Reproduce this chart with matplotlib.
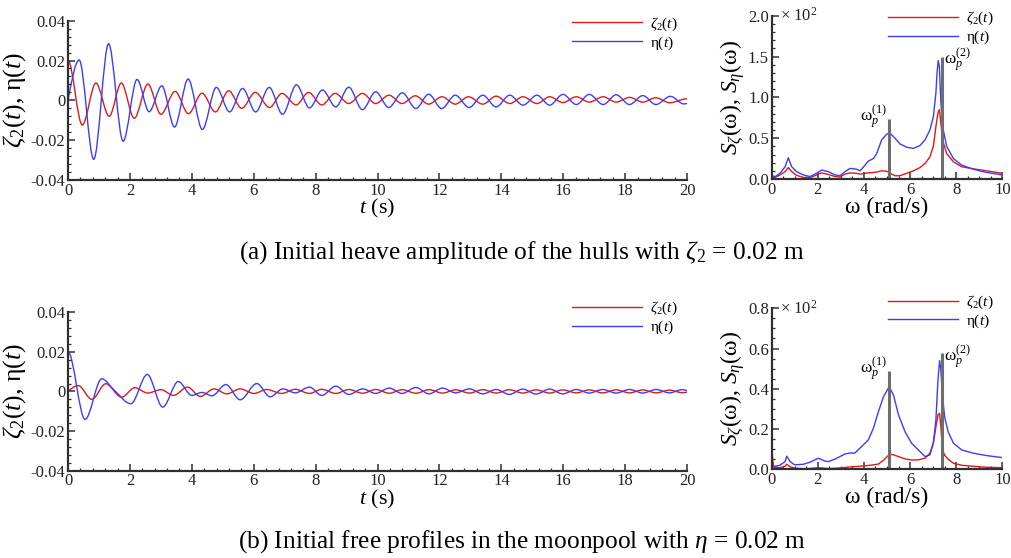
import numpy as np
import matplotlib
matplotlib.use('Agg')
import matplotlib.pyplot as plt
from matplotlib.path import Path
from matplotlib.patches import PathPatch
from matplotlib.lines import Line2D
from matplotlib.ticker import AutoMinorLocator

plt.rcParams['font.family'] = ['Liberation Serif', 'DejaVu Serif']
plt.rcParams['mathtext.fontset'] = 'custom'
plt.rcParams['mathtext.rm'] = 'Liberation Serif'
plt.rcParams['mathtext.it'] = 'Liberation Serif:italic'
plt.rcParams['mathtext.bf'] = 'Liberation Serif:bold'

RED = '#e01818'
BLUE = '#3c3cff'
AXC = '#303030'

# ---- (a) heave of the hulls: extrema of the time histories
t_zeta_a = [0, 0.46, 0.90, 1.33, 1.72, 2.14, 2.58, 3.00, 3.46, 3.89, 4.33, 4.76, 5.19, 5.61,
            6.05, 6.51, 6.91, 7.37, 7.77, 8.20, 8.63, 9.07, 9.51, 9.94, 10.37, 10.79, 11.22,
            11.65, 12.08, 12.51, 12.94, 13.40, 13.83, 14.27, 14.70, 15.15, 15.56, 15.99, 16.42,
            16.84, 17.29, 17.71, 18.14, 18.57, 18.99, 19.44, 20.0]
zeta_a = [0.020, -0.0124, 0.0087, -0.0080, 0.0087, -0.0090, 0.0082, -0.0070, 0.0045, -0.0067,
          0.0036, -0.0058, 0.0048, -0.0040, 0.0040, -0.0036, 0.0035, -0.0023, 0.0040, -0.0023,
          0.0035, -0.0016, 0.0035, -0.0016, 0.0026, -0.0016, 0.0023, -0.0019, 0.0018, -0.0019,
          0.0018, -0.0019, 0.0021, -0.0016, 0.0018, -0.0016, 0.0018, -0.0011, 0.0018, -0.0009,
          0.0018, -0.0009, 0.0015, -0.0009, 0.0013, -0.0012, 0.0008]
t_eta_a = [0, 0.36, 0.83, 1.31, 1.78, 2.23, 2.62, 3.03, 3.44, 3.88, 4.34, 4.79, 5.22, 5.64,
           6.06, 6.50, 6.93, 7.38, 7.80, 8.22, 8.65, 9.07, 9.51, 9.94, 10.36, 10.80, 11.24,
           11.65, 12.07, 12.51, 12.96, 13.40, 13.83, 14.27, 14.70, 15.15, 15.56, 15.99, 16.42,
           16.84, 17.29, 17.71, 18.14, 18.57, 18.99, 19.46, 19.90, 20.0]
eta_a = [0, 0.0203, -0.0296, 0.0284, -0.0205, 0.0105, -0.0057, 0.0073, -0.0134, 0.0107,
         -0.0146, 0.0065, -0.0058, 0.0060, -0.0058, 0.0065, -0.0070, 0.0078, -0.0038, 0.0052,
         -0.0033, 0.0066, -0.0047, 0.0043, -0.0036, 0.0038, -0.0041, 0.0031, -0.0041, 0.0026,
         -0.0036, 0.0026, -0.0033, 0.0026, -0.0024, 0.0026, -0.0024, 0.0030, -0.0021, 0.0030,
         -0.0021, 0.0028, -0.0021, 0.0024, -0.0021, 0.0020, -0.0018, -0.0016]

# ---- (b) initial free surface in the moonpool
t_zeta_b = [0, 0.33, 0.77, 1.22, 1.73, 2.16, 2.57, 3.00, 3.41, 3.86, 4.27, 4.72, 5.13, 5.56,
            6.01, 6.42, 6.90, 7.34, 7.80, 8.20, 8.65, 9.07, 9.52, 9.94, 10.38, 10.79, 11.24,
            11.66, 12.10, 12.52, 12.97, 13.40, 13.83, 14.26, 14.69, 15.12, 15.56, 15.98, 16.42,
            16.84, 17.27, 17.71, 18.14, 18.57, 19.00, 19.43, 19.84, 20.0]
zeta_b = [0, 0.0030, -0.0040, 0.0039, -0.0029, 0.0019, -0.0008, 0.0009, -0.0020, 0.0022,
          -0.0025, 0.0013, -0.0012, 0.0013, -0.0010, 0.0010, -0.0010, 0.0011, -0.0010, 0.0011,
          -0.0010, 0.0010, -0.0009, 0.0010, -0.0009, 0.0009, -0.0009, 0.0009, -0.0008, 0.0008,
          -0.0008, 0.0009, -0.0008, 0.0009, -0.0008, 0.0008, -0.0008, 0.0008, -0.0007, 0.0008,
          -0.0007, 0.0008, -0.0007, 0.0008, -0.0007, 0.0007, -0.0006, -0.0004]
t_eta_b = [0, 0.55, 1.09, 1.50, 2.03, 2.56, 3.06, 3.56, 4.00, 4.33, 4.65, 5.10, 5.56, 6.10,
           6.53, 6.94, 7.34, 7.80, 8.20, 8.65, 9.07, 9.52, 9.94, 10.38, 10.79, 11.24, 11.66,
           12.10, 12.52, 12.97, 13.40, 13.83, 14.26, 14.69, 15.12, 15.56, 15.98, 16.42, 16.84,
           17.27, 17.71, 18.14, 18.57, 19.00, 19.43, 19.84, 20.0]
eta_b = [0.0200, -0.0141, 0.0064, 0.0005, -0.0062, 0.0086, -0.0079, 0.0050, -0.0020, -0.0005,
         -0.0022, 0.0035, -0.0042, 0.0040, -0.0027, 0.0013, -0.0007, 0.0022, -0.0020, 0.0027,
         -0.0015, 0.0013, -0.0010, 0.0017, -0.0010, 0.0020, -0.0012, 0.0017, -0.0007, 0.0013,
         -0.0012, 0.0010, -0.0015, 0.0012, -0.0013, 0.0012, -0.0012, 0.0010, -0.0008, 0.0010,
         -0.0008, 0.0010, -0.0008, 0.0010, -0.0007, 0.0009, 0.0004]

# ---- spectra (values in units of 10^2)
w_a = [0, 0.15, 0.36, 0.58, 0.72, 0.87, 1.08, 1.37, 1.66, 1.95, 2.17, 2.46, 2.75, 2.96, 3.18,
       3.40, 3.68, 3.83, 4.05, 4.19, 4.41, 4.55, 4.77, 4.99, 5.13, 5.35, 5.56, 5.85, 6.14, 6.43,
       6.65, 6.86, 7.01, 7.12, 7.17, 7.22, 7.27, 7.33, 7.41, 7.59, 7.88, 8.24, 8.74, 9.32, 10.0]
S_eta_a = [0.04, 0.03, 0.07, 0.15, 0.26, 0.15, 0.09, 0.05, 0.03, 0.07, 0.11, 0.09, 0.05, 0.04,
           0.09, 0.13, 0.12, 0.10, 0.17, 0.22, 0.25, 0.31, 0.48, 0.55, 0.56, 0.50, 0.43, 0.39,
           0.375, 0.41, 0.48, 0.60, 0.76, 1.05, 1.30, 1.45, 1.38, 0.97, 0.64, 0.40, 0.25, 0.17,
           0.12, 0.08, 0.05]
S_zeta_a = [0.02, 0.02, 0.05, 0.09, 0.14, 0.09, 0.045, 0.02, 0.015, 0.05, 0.075, 0.055, 0.03,
            0.025, 0.06, 0.075, 0.07, 0.06, 0.07, 0.075, 0.08, 0.085, 0.10, 0.095, 0.07, 0.04,
            0.04, 0.07, 0.10, 0.14, 0.19, 0.27, 0.40, 0.64, 0.74, 0.82, 0.85, 0.70, 0.48, 0.31,
            0.21, 0.15, 0.125, 0.10, 0.07]

w_b = [0, 0.05, 0.1, 0.36, 0.58, 0.65, 0.8, 1.0, 1.37, 1.66, 2.02, 2.30, 2.46, 2.75, 3.18, 3.40,
       3.60, 3.90, 4.19, 4.41, 4.63, 4.85, 5.05, 5.13, 5.28, 5.50, 5.78, 6.07, 6.36, 6.65, 6.86,
       7.01, 7.12, 7.21, 7.28, 7.33, 7.41, 7.50, 7.65, 7.88, 8.24, 8.74, 9.32, 10.0]
S_eta_b = [0.013, 0.013, 0.014, 0.02, 0.038, 0.065, 0.038, 0.022, 0.025, 0.035, 0.055, 0.041,
           0.038, 0.051, 0.076, 0.081, 0.080, 0.113, 0.146, 0.204, 0.287, 0.361, 0.402, 0.402,
           0.369, 0.27, 0.187, 0.129, 0.096, 0.063, 0.071, 0.13, 0.245, 0.444, 0.54, 0.50, 0.36,
           0.26, 0.187, 0.13, 0.096, 0.08, 0.068, 0.058]
S_zeta_b = [0.12, 0.04, 0.01, 0.008, 0.015, 0.025, 0.012, 0.006, 0.003, 0.004, 0.008, 0.005,
            0.003, 0.005, 0.009, 0.012, 0.013, 0.016, 0.019, 0.022, 0.026, 0.045, 0.068, 0.075,
            0.072, 0.063, 0.052, 0.046, 0.047, 0.055, 0.08, 0.13, 0.21, 0.27, 0.278, 0.22, 0.096,
            0.07, 0.05, 0.03, 0.02, 0.015, 0.01, 0.008]

# peak frequencies and heights of the marker lines
wp = [5.09, 7.37]
wp_top_a = [0.735, 1.49]
wp_top_b = [0.49, 0.58]

captions = [r'(a) Initial heave amplitude of the hulls with $\zeta_2$ = 0.02 m',
            r'(b) Initial free profiles in the moonpool with $\eta$ = 0.02 m']


def smooth_path(t, y):
    # smooth curve through the read extrema (flat tangent at each extremum)
    t = np.asarray(t, float)
    y = np.asarray(y, float)
    n = len(t)
    s = np.zeros(n)
    for i in range(1, n - 1):
        if (y[i] - y[i - 1]) * (y[i + 1] - y[i]) > 0:
            s[i] = (y[i + 1] - y[i - 1]) / (t[i + 1] - t[i - 1])
    if abs(y[0]) < 0.5 * abs(y[1]):
        s[0] = 1.5 * (y[1] - y[0]) / (t[1] - t[0])
    if abs(y[-1]) < 0.5 * abs(y[-2]):
        s[-1] = 1.5 * (y[-1] - y[-2]) / (t[-1] - t[-2])
    verts = [(t[0], y[0])]
    codes = [Path.MOVETO]
    for i in range(n - 1):
        d = (t[i + 1] - t[i]) / 3
        verts += [(t[i] + d, y[i] + s[i] * d), (t[i + 1] - d, y[i + 1] - s[i + 1] * d),
                  (t[i + 1], y[i + 1])]
        codes += [Path.CURVE4] * 3
    return Path(verts, codes)


def style(ax):
    for sp in ['top', 'right']:
        ax.spines[sp].set_visible(False)
    for sp in ['left', 'bottom']:
        ax.spines[sp].set_color(AXC)
        ax.spines[sp].set_linewidth(1.6)
    ax.tick_params(which='both', direction='in', colors=AXC, labelcolor='#222222',
                   labelsize=12, pad=2)
    ax.tick_params(which='major', length=5, width=1.1)
    ax.tick_params(which='minor', length=2.5, width=0.9)


def add_legend(anchor):
    handles = [Line2D([], [], color=RED, lw=1.0), Line2D([], [], color=BLUE, lw=1.0)]
    fig.legend(handles, [r'$\zeta_2(t)$', r'η($t$)'], loc='upper left',
               bbox_to_anchor=anchor, frameon=False, fontsize=11, handlelength=4.6,
               handletextpad=0.5, labelspacing=0.1, borderpad=0, borderaxespad=0)


def time_panel(rect, tz, z, te, e, leg_anchor):
    ax = fig.add_axes(rect)
    ax.add_patch(PathPatch(smooth_path(tz, z), fill=False, edgecolor=RED, lw=1.0))
    ax.add_patch(PathPatch(smooth_path(te, e), fill=False, edgecolor=BLUE, lw=1.0))
    ax.set_xlim(0, 20)
    ax.set_ylim(-0.04, 0.04)
    ax.set_xticks(np.arange(0, 21, 2))
    ax.set_yticks([-0.04, -0.02, 0, 0.02, 0.04])
    ax.set_yticklabels(['-0.04', '-0.02', '0', '0.02', '0.04'])
    ax.xaxis.set_minor_locator(AutoMinorLocator(5))
    ax.yaxis.set_minor_locator(AutoMinorLocator(5))
    style(ax)
    ax.set_xlabel(r'$t$ (s)', fontsize=16, labelpad=-1)
    ax.set_ylabel(r'$\zeta_2(t)$, η($t$)', fontsize=18.5, labelpad=2)
    add_legend(leg_anchor)
    return ax


def spec_panel(rect, w, se, sz, ymax, yticks, ylabels, tops, leg_anchor, lab1, lab2, minor_y):
    ax = fig.add_axes(rect)
    ax.plot(w, sz, color=RED, lw=1.0)
    ax.plot(w, se, color=BLUE, lw=1.0)
    ax.vlines(wp, 0, tops, color='#6e6e6e', lw=2.2)
    ax.set_xlim(0, 10)
    ax.set_ylim(0, ymax)
    ax.set_xticks(np.arange(0, 11, 2))
    ax.set_yticks(yticks)
    ax.set_yticklabels(ylabels)
    ax.xaxis.set_minor_locator(AutoMinorLocator(4))
    ax.yaxis.set_minor_locator(AutoMinorLocator(minor_y))
    style(ax)
    ax.set_xlabel('ω (rad/s)', fontsize=17, labelpad=-1)
    ax.set_ylabel(r'$S_\zeta$(ω), $S_\eta$(ω)', fontsize=17, labelpad=1)
    ax.text(0.035, 1.0, r'× 10$^2$', transform=ax.transAxes, fontsize=12,
            color='#222222', va='center', ha='left')
    ax.text(wp[0] - 0.08, lab1, r'ω$_{p}^{(1)}$', fontsize=12.5, ha='right', va='baseline')
    ax.text(wp[1] + 0.12, lab2, r'ω$_{p}^{(2)}$', fontsize=12.5, ha='left', va='baseline')
    add_legend(leg_anchor)
    return ax


fig = plt.figure(figsize=(10.11, 5.58), dpi=100)

time_panel([0.0673, 0.6774, 0.6123, 0.2855], t_zeta_a, zeta_a, t_eta_a, eta_a,
           (0.5658, 0.972))
time_panel([0.0673, 0.1565, 0.6123, 0.2839], t_zeta_b, zeta_b, t_eta_b, eta_b,
           (0.5658, 0.4625))
spec_panel([0.7633, 0.6792, 0.2281, 0.2927], w_a, S_eta_a, S_zeta_a, 2.0,
           [0, 0.5, 1.0, 1.5, 2.0], ['0.0', '0.5', '1.0', '1.5', '2.0'], wp_top_a,
           (0.8783, 0.982), 0.70, 1.40, 5)
spec_panel([0.7633, 0.159, 0.2281, 0.2885], w_b, S_eta_b, S_zeta_b, 0.8,
           [0, 0.2, 0.4, 0.6, 0.8], ['0.0', '0.2', '0.4', '0.6', '0.8'], wp_top_b,
           (0.8783, 0.4735), 0.477, 0.535, 4)

fig.text(0.5165, 1 - 253 / 558, captions[0], fontsize=18.3, ha='center', va='center')
fig.text(0.5165, 1 - 542 / 558, captions[1], fontsize=18.3, ha='center', va='center')

fig.savefig('out.png', dpi=100)
